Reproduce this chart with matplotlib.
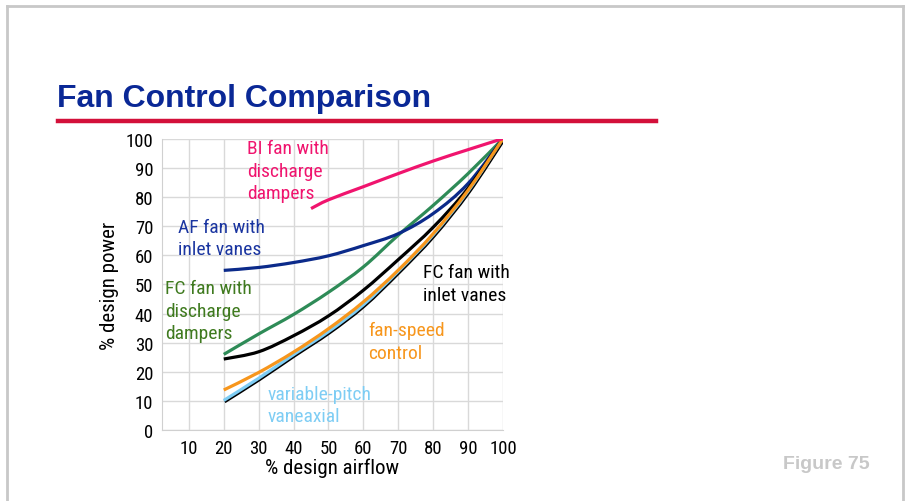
import numpy as np
import matplotlib
matplotlib.use("Agg")
import matplotlib.pyplot as plt
import matplotlib.patheffects as pe
from matplotlib.lines import Line2D
from matplotlib.path import Path
from matplotlib.patches import PathPatch

plt.rcParams['font.family'] = ['Roboto Condensed', 'Liberation Sans', 'DejaVu Sans']

## curve data (% design airflow -> % design power)
x_bi = [45, 50, 60, 70, 80, 90, 100]
bi = [76, 79, 83.5, 88, 92.3, 96.2, 100]

x_std = [20, 30, 40, 50, 60, 70, 80, 90, 100]
af_inlet = [54.8, 55.8, 57.5, 59.8, 63.3, 67.4, 74.3, 84.6, 100]
fc_discharge = [26, 33, 39.7, 47.3, 56, 66.9, 77.1, 88, 100]
fc_inlet = [24.4, 26.9, 32.4, 39.2, 48, 58.5, 69.6, 83, 100]
fan_speed = [13.8, 19.8, 26.8, 34.8, 44, 54.9, 67.4, 82.3, 100]
var_pitch = [10.2, 17.8, 25.9, 33.8, 43, 54.5, 67, 82, 100]

x_ticks = [10, 20, 30, 40, 50, 60, 70, 80, 90, 100]
y_ticks = [0, 10, 20, 30, 40, 50, 60, 70, 80, 90, 100]


def smooth_path(x, y):
    # Catmull-Rom through the points, as cubic Bezier segments
    p = np.column_stack([x, y]).astype(float)
    verts = [p[0]]
    codes = [Path.MOVETO]
    for i in range(len(p) - 1):
        p0 = p[i - 1] if i > 0 else p[i]
        p3 = p[i + 2] if i + 2 < len(p) else p[i + 1]
        c1 = p[i] + (p[i + 1] - p0) / 6
        c2 = p[i + 1] - (p3 - p[i]) / 6
        verts += [c1, c2, p[i + 1]]
        codes += [Path.CURVE4] * 3
    return Path(verts, codes)


def curve(ax, x, y, color, **kw):
    patch = PathPatch(smooth_path(x, y), fill=False, edgecolor=color, lw=2.3,
                      capstyle='butt', joinstyle='round', **kw)
    ax.add_patch(patch)


fig = plt.figure(figsize=(9.08, 5.02), dpi=100)
ax = fig.add_axes([0.178, 0.141, 0.376, 0.581])

curve(ax, x_std, var_pitch, '#7ecdf4',
      path_effects=[pe.SimpleLineShadow(offset=(0.6, -0.9), shadow_color='black', alpha=1.0),
                    pe.Normal()])
curve(ax, x_std, fc_discharge, '#2e8b57')
curve(ax, x_std, af_inlet, '#0b2a8a')
curve(ax, x_std, fc_inlet, 'black')
curve(ax, x_std, fan_speed, '#f7961c')
curve(ax, x_bi, bi, '#f0146e')

ax.set_xlim(2.2, 100)
ax.set_ylim(0, 100)
ax.set_xticks(x_ticks)
ax.set_yticks(y_ticks)
ax.grid(True, color='#d9d9d9', lw=1.0)
ax.set_axisbelow(True)
for s in ax.spines.values():
    s.set_visible(False)
ax.spines['left'].set_visible(True)
ax.spines['bottom'].set_visible(True)
ax.spines['left'].set_color('#d0d0d0')
ax.spines['bottom'].set_color('#d0d0d0')
ax.tick_params(length=0, labelsize=13.5, pad=6, colors='black')
ax.set_xlabel('% design airflow', fontsize=15, labelpad=1)
ax.set_ylabel('% design power', fontsize=15, labelpad=5)

## curve labels
fs = 14
ls = 1.32
ax.text(26.6, 88.9, 'BI fan with\ndischarge\ndampers', color='#f0146e', fontsize=fs, va='center', linespacing=ls)
ax.text(6.9, 65.9, 'AF fan with\ninlet vanes', color='#1a35a0', fontsize=fs, va='center', linespacing=ls)
ax.text(3.1, 40.9, 'FC fan with\ndischarge\ndampers', color='#3f7a1f', fontsize=fs, va='center', linespacing=ls)
ax.text(77.1, 50.3, 'FC fan with\ninlet vanes', color='black', fontsize=fs, va='center', linespacing=ls)
ax.text(61.4, 30.5, 'fan-speed\ncontrol', color='#f7961c', fontsize=fs, va='center', linespacing=ls)
ax.text(32.6, 8.7, 'variable-pitch\nvaneaxial', color='#7ecdf4', fontsize=fs, va='center', linespacing=ls)

## slide decoration
W, H = 908, 502
def fx(p): return p / W
def fy(p): return 1 - p / H
border = '#c8c8c8'
fig.add_artist(Line2D([fx(7), fx(903)], [fy(7), fy(7)], color=border, lw=2))
fig.add_artist(Line2D([fx(7), fx(7)], [fy(7), 0], color=border, lw=2))
fig.add_artist(Line2D([fx(903), fx(903)], [fy(7), 0], color=border, lw=2))
fig.add_artist(Line2D([fx(58), fx(656)], [fy(122), fy(122)], color='#d3103a', lw=3.2))

fig.text(fx(57), fy(99), 'Fan Control Comparison', color='#0a2896', fontsize=23,
         fontweight='bold', family=['Liberation Sans', 'DejaVu Sans'], va='center', ha='left')
fig.text(fx(870), fy(465), 'Figure 75', color='#c8c8c8', fontsize=14,
         fontweight='bold', family=['Liberation Sans', 'DejaVu Sans'], va='center', ha='right')

fig.savefig('out.png', dpi=100)
